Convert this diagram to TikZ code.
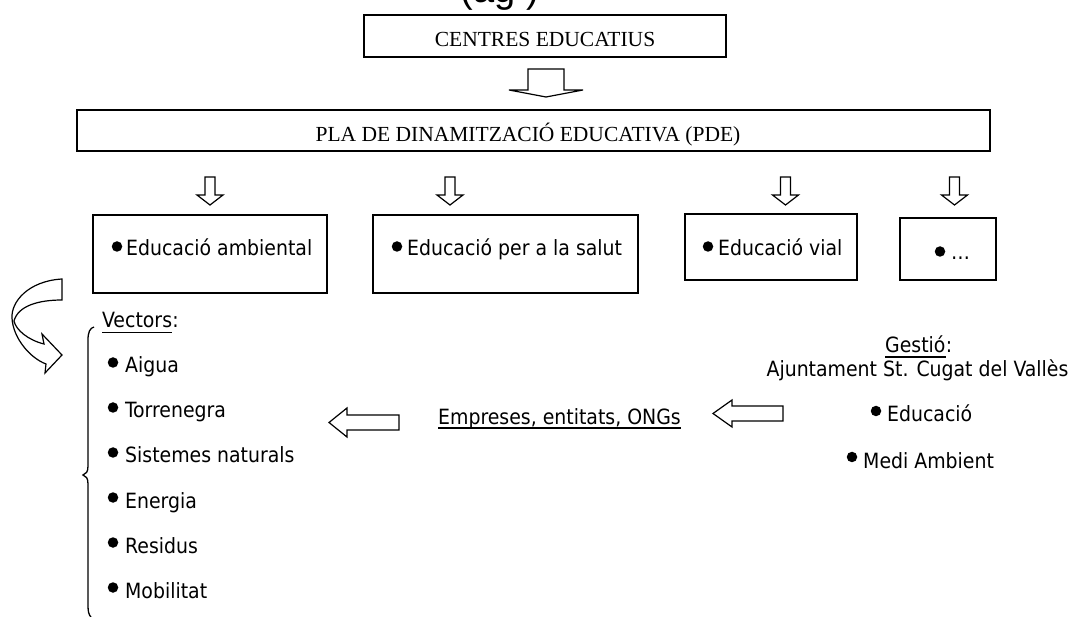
\documentclass[tikz,border=0pt]{standalone}
\usepackage{fontspec}
\setmainfont{DejaVu Sans Condensed}
\newfontfamily\timesf{Liberation Serif}
\newfontfamily\arialf{Liberation Sans}
\begin{document}
\begin{tikzpicture}[x=1pt,y=-1pt,
  box/.style={draw, line width=1.8pt, rectangle, inner sep=0pt},
  blk/.style={draw, line width=1.2pt, fill=white, line join=miter},
  bul/.style={circle, fill=black, inner sep=0pt, minimum size=10.5pt},
  sans/.style={font=\fontsize{21}{25}\selectfont, inner sep=0pt},
  serif/.style={font=\timesf\fontsize{21.5}{26}\selectfont, inner sep=0pt},
  ul/.style={line width=1.4pt}
]
\useasboundingbox (0,0) rectangle (1074,617);

% partially visible title
\node[font=\arialf\fontsize{38}{40}\selectfont, anchor=base, inner sep=0pt] (fig) at (500,3) {(ag )};

% boxes
\node[box, minimum width=362, minimum height=42] (cen) at (545,36) {};
\node[serif, anchor=base] (centxt) at (545,47) {CENTRES EDUCATIUS};
\node[box, minimum width=913, minimum height=41] (pde) at (533.5,130.5) {};
\node[serif, anchor=base] (pdetxt) at (528,142) {PLA DE DINAMITZACIÓ EDUCATIVA (PDE)};

\node[box, minimum width=234, minimum height=78] (amb) at (210,254) {};
\node[box, minimum width=265, minimum height=78] (sal) at (505.5,254) {};
\node[box, minimum width=172, minimum height=66] (vial) at (771,247) {};
\node[box, minimum width=96, minimum height=62] (etc) at (948,249) {};

\node[bul] (b1) at (117,246.5) {};
\node[sans, anchor=base west] (t1) at (126,256) {Educació ambiental};
\node[bul] (b2) at (397,246.5) {};
\node[sans, anchor=base west] (t2) at (407,256) {Educació per a la salut};
\node[bul] (b3) at (708,246.5) {};
\node[sans, anchor=base west] (t3) at (718,256) {Educació vial};
\node[bul] (b4) at (940,251.5) {};
\node[sans, anchor=base west] (t4) at (951,260) {…};

% block arrows down
\draw[blk] (528,69) -- (564,69) -- (564,90) -- (583,90) -- (546,97) -- (509,90) -- (528,90) -- cycle;
\foreach \c in {210,450,785.5,954.5}{
  \draw[blk] (\c-5,177) -- (\c+5,177) -- (\c+5,195) -- (\c+13,195) -- (\c,205) -- (\c-13,195) -- (\c-5,195) -- cycle;
}

% curved arrow
\draw[blk] (62,279) .. controls (28,281) and (11,302) .. (12,318)
  .. controls (13,338) and (30,358) .. (46,364) -- (45,373) -- (62,355) -- (42,334) -- (44,344)
  .. controls (28,340) and (16,330) .. (14,321)
  .. controls (18,306) and (38,300) .. (62,300) -- cycle;

% brace
\draw[line width=1.3pt] (94,327) .. controls (90,328) and (88,332) .. (88,340) -- (88,466)
  .. controls (88,472) and (86,474) .. (83,475) .. controls (86,476) and (88,478) .. (88,484)
  -- (88,606) .. controls (88,612) and (89,615) .. (91,617);

% vectors list
\node[sans, anchor=base west] (vec) at (102,328) {Vectors};
\node[sans, anchor=base west] (vecc) at (vec.base east) {:};
\draw[ul] ([yshift=-4.5pt]vec.base west) -- ([yshift=-4.5pt]vec.base east);
\foreach \n/\y/\t in {v1/373/Aigua, v2/418/Torrenegra, v3/463/Sistemes naturals, v4/508/Energia, v5/553/Residus, v6/598/Mobilitat}{
  \node[bul] (b\n) at (113,\y-10.5) {};
  \node[sans, anchor=base west] (\n) at (125,\y) {\t};
}

% middle
\node[sans, anchor=base west] (emp) at (438,425) {Empreses, entitats, ONGs};
\draw[ul] ([yshift=-3pt]emp.base west) -- ([yshift=-3pt]emp.base east);
\draw[blk] (399,415) -- (399,430) -- (347,430) -- (347,437) -- (329,422.5) -- (347,408) -- (347,415) -- cycle;

% right side
\node[sans, anchor=base west] (ges) at (885,353) {Gestió};
\node[sans, anchor=base west] (gesc) at (ges.base east) {:};
\draw[ul] ([yshift=-4pt]ges.base west) -- ([yshift=-4pt]ges.base east);
\node[sans, anchor=base] (ajt) at (917.5,377) {Ajuntament St. Cugat del Vallès};
\node[bul] (be) at (876,411) {};
\node[sans, anchor=base west] (edu) at (887,422) {Educació};
\node[bul] (bm) at (852,457) {};
\node[sans, anchor=base west] (medi) at (863,468) {Medi Ambient};
\draw[blk] (783,406) -- (783,421) -- (732,421) -- (732,427) -- (713,413.5) -- (732,400) -- (732,406) -- cycle;
\end{tikzpicture}
\end{document}
